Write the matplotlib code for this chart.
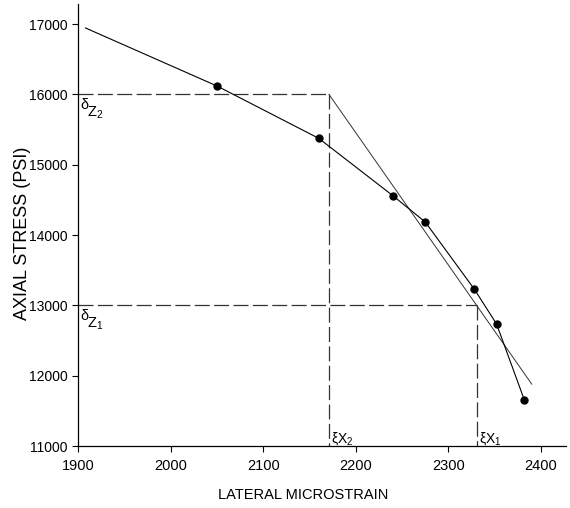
import matplotlib
matplotlib.use("Agg")
import matplotlib.pyplot as plt
from matplotlib import font_manager

# lateral microstrain vs axial stress readings
strain = [2050, 2160, 2240, 2275, 2328, 2352, 2382]
stress = [16120, 15375, 14560, 14185, 13230, 12735, 11655]

# the curve is drawn through the readings from an extrapolated start
curve_start_strain = 1908
curve_start_stress = 16945

stress_levels = [16000, 13000]      # delta_Z2, delta_Z1
strain_levels = [2171, 2331]        # xi_X2, xi_X1
level_names = ["2", "1"]

# secant through both (strain, stress) pairs, carried on past the lower one
secant_end_strain = 2390
secant_end_stress = 11880

xticks = [1900, 2000, 2100, 2200, 2300, 2400]
yticks = [11000, 12000, 13000, 14000, 15000, 16000, 17000]

names = {f.name for f in font_manager.fontManager.ttflist}
if "Liberation Sans Narrow" in names:
    face = "Liberation Sans Narrow"
    tick_x, tick_y, lab_size, sym_size = 12.5, 12, 12, 12
else:
    face = "Liberation Sans"
    tick_x, tick_y, lab_size, sym_size = 10.5, 10, 10.5, 10.5

plt.rcParams["font.family"] = [face, "DejaVu Sans"]
plt.rcParams["mathtext.fontset"] = "custom"
plt.rcParams["mathtext.rm"] = face
plt.rcParams["mathtext.it"] = face

fig = plt.figure(figsize=(5.70, 5.08), dpi=100)
ax = fig.add_axes([0.137, 0.122, 0.856, 0.870])

ax.set_xlim(1900, 2427)
ax.set_ylim(11000, 17285)

dash = (0, (12, 3.5))
for lvl_x, lvl_y in zip(strain_levels, stress_levels):
    ax.plot([1900, lvl_x], [lvl_y, lvl_y], color="#333333", lw=0.9,
            linestyle=dash, clip_on=False)
    ax.plot([lvl_x, lvl_x], [lvl_y, 11000], color="#333333", lw=0.9,
            linestyle=dash, clip_on=False)

# secant line
ax.plot([strain_levels[0], secant_end_strain],
        [stress_levels[0], secant_end_stress], color="#333333", lw=0.7)

# curve through the readings
ax.plot([curve_start_strain] + strain, [curve_start_stress] + stress,
        color="black", lw=0.8)
ax.plot(strain, stress, "o", color="black", ms=5)

# level labels on the stress axis
for lvl_y, n in zip(stress_levels, level_names):
    ax.annotate("δ", xy=(1900, lvl_y), xytext=(1.5, -2.5),
                textcoords="offset points", ha="left", va="top",
                fontsize=sym_size)
    ax.annotate("Z$_%s$" % n, xy=(1900, lvl_y), xytext=(6.5, -7.5),
                textcoords="offset points", ha="left", va="top",
                fontsize=sym_size)

# level labels on the strain axis
for lvl_x, n in zip(strain_levels, level_names):
    ax.annotate("ξX$_%s$" % n, xy=(lvl_x, 11000), xytext=(1.5, 2.2),
                textcoords="offset points", ha="left", va="baseline",
                fontsize=sym_size - 0.5)

ax.set_xticks(xticks)
ax.set_yticks(yticks)
ax.tick_params(axis="x", direction="out", length=4.5, width=0.8,
               pad=5, labelsize=tick_x)
ax.tick_params(axis="y", direction="out", length=4, width=0.8,
               pad=3.5, labelsize=tick_y)

for side in ["top", "right"]:
    ax.spines[side].set_visible(False)
for side in ["left", "bottom"]:
    ax.spines[side].set_linewidth(0.9)

ax.set_xlabel("LATERAL MICROSTRAIN", fontsize=lab_size, va="center")
ax.xaxis.set_label_coords(0.461, -0.11)
ax.set_ylabel("AXIAL STRESS (PSI)", fontsize=13, family="Liberation Sans",
              va="center")
ax.yaxis.set_label_coords(-0.114, 0.481)

fig.savefig("out.png", dpi=100)
